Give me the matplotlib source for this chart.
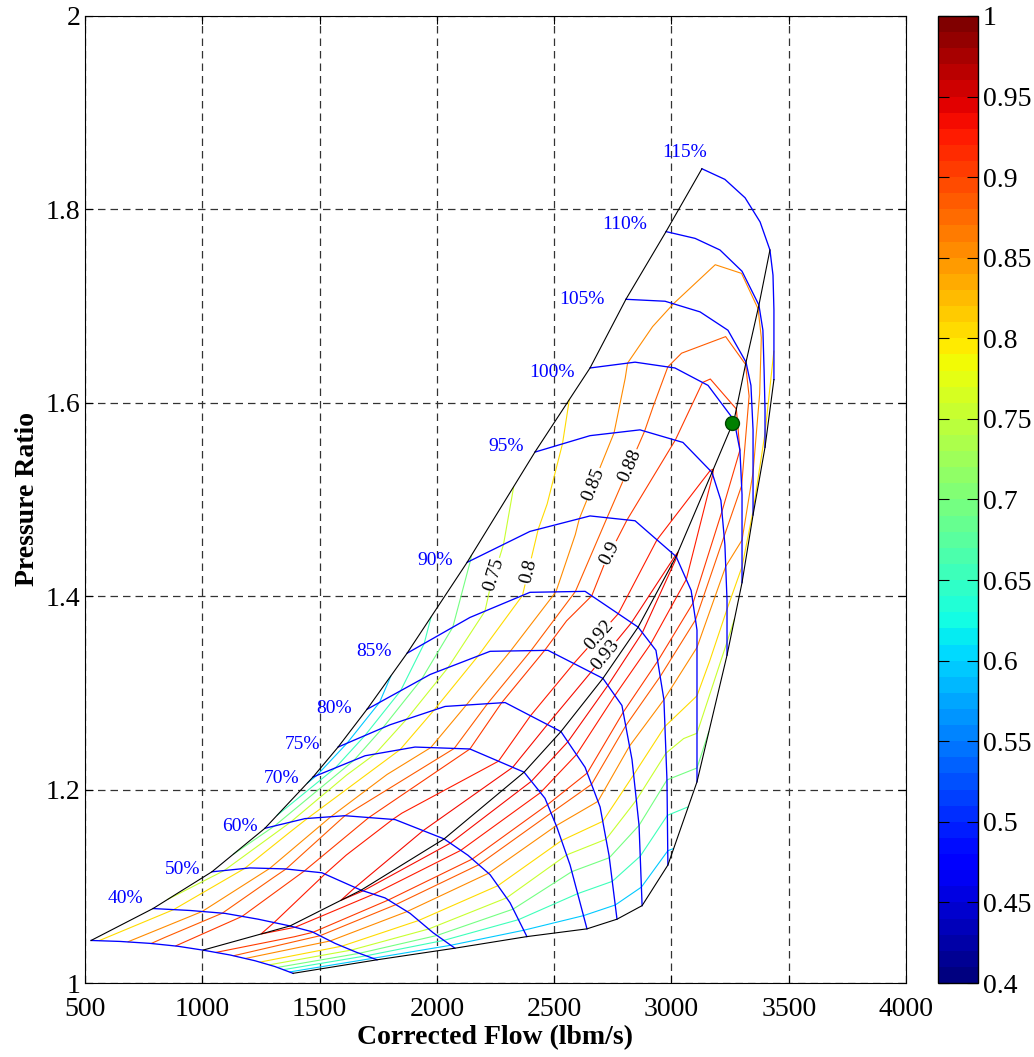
import numpy as np
import matplotlib
matplotlib.use('Agg')
import matplotlib.pyplot as plt
from matplotlib.colors import Normalize
from matplotlib.ticker import FormatStrFormatter

plt.rcParams['font.family'] = ['Liberation Serif', 'DejaVu Serif']

# fan map table, one row per speed line, columns go surge -> peak -> choke
speed_labels = ['40%', '50%', '60%', '70%', '75%', '80%', '85%', '90%',
                '95%', '100%', '105%', '110%', '115%']

flow = np.array([
    [526, 649, 777, 896, 1003, 1118, 1225, 1310, 1387],
    [790, 948, 1097, 1238, 1374, 1468, 1566, 1655, 1745],
    [1041, 1203, 1353, 1510, 1677, 1779, 1886, 1984, 2077],
    [1267, 1438, 1608, 1822, 2031, 2133, 2227, 2312, 2384],
    [1472, 1694, 1907, 2141, 2372, 2461, 2512, 2568, 2640],
    [1579, 1800, 2035, 2291, 2529, 2632, 2696, 2734, 2768],
    [1702, 1971, 2227, 2474, 2708, 2789, 2832, 2862, 2875],
    [1873, 2141, 2397, 2632, 2858, 2934, 2968, 2981, 2985],
    [2129, 2397, 2653, 2845, 3020, 3084, 3109, 3109, 3109],
    [2418, 2653, 2866, 3049, 3173, 3211, 3228, 3237, 3237],
    [2653, 2845, 3015, 3156, 3267, 3292, 3301, 3301, 3301],
    [2806, 2973, 3122, 3241, 3318, 3339, 3348, 3348, 3348],
    [2977, 3101, 3207, 3301, 3373, 3390, 3395, 3399, 3399],
    [3130, 3228, 3314, 3378, 3420, 3433, 3437, 3437, 3437],
])

pr = np.array([
    [1.044, 1.043, 1.041, 1.038, 1.034, 1.029, 1.023, 1.017, 1.010],
    [1.077, 1.075, 1.072, 1.066, 1.059, 1.053, 1.041, 1.032, 1.024],
    [1.115, 1.119, 1.118, 1.114, 1.096, 1.088, 1.072, 1.052, 1.036],
    [1.160, 1.170, 1.173, 1.169, 1.149, 1.132, 1.112, 1.083, 1.048],
    [1.213, 1.235, 1.244, 1.242, 1.218, 1.191, 1.161, 1.122, 1.056],
    [1.244, 1.267, 1.286, 1.290, 1.260, 1.223, 1.182, 1.132, 1.066],
    [1.283, 1.319, 1.343, 1.344, 1.315, 1.287, 1.231, 1.163, 1.080],
    [1.341, 1.378, 1.404, 1.405, 1.368, 1.344, 1.293, 1.210, 1.122],
    [1.435, 1.467, 1.483, 1.478, 1.441, 1.406, 1.365, 1.287, 1.208],
    [1.549, 1.566, 1.572, 1.559, 1.528, 1.499, 1.453, 1.396, 1.339],
    [1.636, 1.642, 1.636, 1.618, 1.582, 1.551, 1.505, 1.458, 1.414],
    [1.707, 1.705, 1.694, 1.675, 1.642, 1.618, 1.572, 1.528, 1.484],
    [1.777, 1.770, 1.758, 1.736, 1.701, 1.675, 1.634, 1.593, 1.554],
    [1.842, 1.831, 1.812, 1.787, 1.758, 1.732, 1.696, 1.660, 1.624],
])

eff = np.array([
    [0.785, 0.840, 0.879, 0.902, 0.910, 0.889, 0.825, 0.719, 0.570],
    [0.760, 0.832, 0.884, 0.915, 0.925, 0.903, 0.836, 0.725, 0.570],
    [0.720, 0.813, 0.879, 0.919, 0.932, 0.909, 0.842, 0.728, 0.570],
    [0.670, 0.795, 0.880, 0.922, 0.936, 0.913, 0.845, 0.730, 0.570],
    [0.590, 0.730, 0.830, 0.900, 0.938, 0.915, 0.846, 0.715, 0.570],
    [0.575, 0.720, 0.820, 0.905, 0.938, 0.910, 0.840, 0.705, 0.570],
    [0.570, 0.720, 0.820, 0.905, 0.937, 0.910, 0.830, 0.700, 0.570],
    [0.620, 0.730, 0.810, 0.895, 0.935, 0.914, 0.850, 0.700, 0.580],
    [0.695, 0.790, 0.863, 0.908, 0.9305, 0.915, 0.868, 0.790, 0.680],
    [0.775, 0.825, 0.877, 0.905, 0.921, 0.909, 0.873, 0.814, 0.730],
    [0.815, 0.857, 0.885, 0.903, 0.905, 0.900, 0.875, 0.850, 0.770],
    [0.820, 0.845, 0.866, 0.877, 0.879, 0.876, 0.865, 0.850, 0.795],
    [0.820, 0.835, 0.845, 0.849, 0.848, 0.846, 0.840, 0.825, 0.785],
    [0.810, 0.820, 0.828, 0.832, 0.833, 0.832, 0.825, 0.805, 0.775],
])
peak_col = 4   # column that carries the black peak line

plain_levels = [0.6, 0.65, 0.7]
label_levels = [0.75, 0.8, 0.85, 0.88, 0.9, 0.92, 0.93]
label_flow = [2278, 2418, 2696, 2845, 2751, 2666, 2696]
label_pr = [1.420, 1.424, 1.513, 1.533, 1.443, 1.365, 1.344]

# where the speed labels sit (rows 1..13; the lowest line has none)
speed_label_flow = [671, 918, 1161, 1340, 1429, 1562, 1732, 1992, 2295, 2491, 2619, 2802, 3058]
speed_label_pr = [1.087, 1.117, 1.162, 1.211, 1.247, 1.284, 1.343, 1.437, 1.555, 1.631, 1.707, 1.784, 1.859]

design_flow = 3258
design_pr = 1.579

cmap = plt.get_cmap('jet', 60)
norm = Normalize(0.4, 1.0)

fig = plt.figure(figsize=(10.34, 10.57), dpi=100)
ax = fig.add_axes([0.0822, 0.07, 0.794, 0.9149])
cax = fig.add_axes([0.907, 0.07, 0.0387, 0.9149])

ax.contour(flow, pr, eff, levels=plain_levels, cmap=cmap, norm=norm, linewidths=0.8)
# one contour set per labelled level so each label lands on its own line
for lev, lx, ly in zip(label_levels, label_flow, label_pr):
    cs = ax.contour(flow, pr, eff, levels=[lev], colors=[cmap(norm(lev))], linewidths=0.8)
    ax.clabel(cs, manual=[(lx, ly)], fmt='%g', fontsize=14,
              colors='k', inline=True, inline_spacing=4)

for i in range(flow.shape[0]):
    ax.plot(flow[i], pr[i], color='blue', lw=0.95)

ax.plot(flow[:, 0], pr[:, 0], color='k', lw=0.8)          # surge line
ax.plot(flow[:, -1], pr[:, -1], color='k', lw=0.8)        # choke line
ax.plot(flow[:, peak_col], pr[:, peak_col], color='k', lw=0.8)

for name, x, y in zip(speed_labels, speed_label_flow, speed_label_pr):
    ax.text(x, y, name, color='blue', fontsize=14, ha='center', va='center')

ax.plot(design_flow, design_pr, 'o', ms=10, mfc='green', mec='#004400', mew=1)

ax.set_xlim(500, 4000)
ax.set_ylim(1, 2)
ax.set_xticks(np.arange(500, 4001, 500))
ax.set_yticks(np.arange(1, 2.01, 0.2))
ax.yaxis.set_major_formatter(FormatStrFormatter('%g'))
ax.set_axisbelow(True)
ax.grid(True, color='0.2', lw=0.9, linestyle=(0, (6, 4)))
ax.tick_params(direction='in', labelsize=20, length=6, top=True, right=True)
ax.tick_params(axis='x', pad=10)
ax.set_xlabel('Corrected Flow (lbm/s)', fontsize=20, fontweight='bold', labelpad=2)
ax.set_ylabel('Pressure Ratio', fontsize=20, fontweight='bold', labelpad=4)

sm = matplotlib.cm.ScalarMappable(norm=norm, cmap=cmap)
cb = fig.colorbar(sm, cax=cax, ticks=np.arange(0.4, 1.001, 0.05))
cb.ax.yaxis.set_major_formatter(FormatStrFormatter('%g'))
cax.tick_params(direction='in', labelsize=20, length=8, left=True, right=True)
cb.outline.set_linewidth(1.0)

fig.savefig('out.png', dpi=100)
